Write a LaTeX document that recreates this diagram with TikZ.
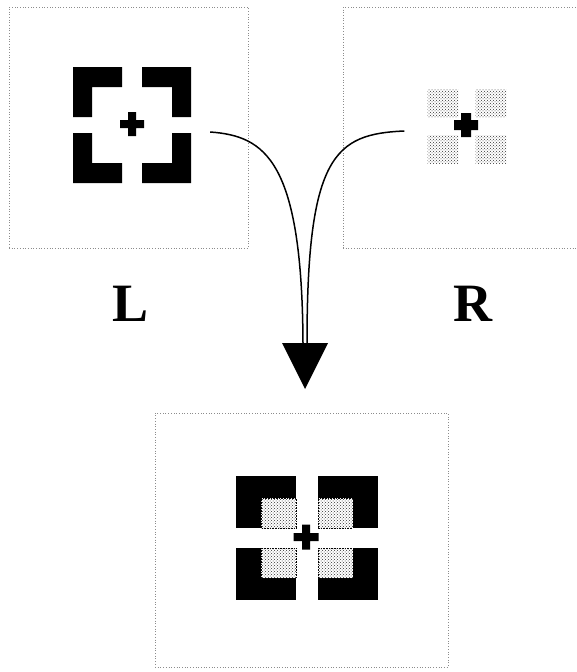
\documentclass[tikz,border=0pt]{standalone}
\usepackage{fontspec}
\setmainfont{Liberation Serif}
\usetikzlibrary{patterns}

\begin{document}
\begin{tikzpicture}[x=1pt, y=-1pt,
        panel/.style={rectangle, draw=black!45, dotted, line width=0.7pt, inner sep=0pt},
        symbox/.style={rectangle, inner sep=0pt},
        stipple/.style={pattern=crosshatch dots, pattern color=black!80},
        link/.style={line width=1.5pt},
        lbl/.style={font=\fontsize{54}{60}\selectfont\bfseries}]

        \clip (0,0) rectangle (577,672);

        \node[panel, minimum width=239pt, minimum height=241pt] (left) at (128.5,127.5) {};
        \node[panel, minimum width=240pt, minimum height=241pt] (right) at (463,127.5) {};
        \node[panel, minimum width=293pt, minimum height=254pt] (merged) at (301.5,540) {};

        \node[symbox, minimum width=118pt, minimum height=116pt] (Lmark) at (132,125) {};
        \node[symbox, minimum width=79pt, minimum height=74pt] (Rmark) at (467,126) {};
        \node[symbox, minimum width=142pt, minimum height=124pt] (Mmark) at (307,538) {};

        % black corner brackets
        \foreach \sx/\sy in {1/1,1/-1,-1/1,-1/-1}
            \fill[shift={(Lmark.center)}, xscale=\sx, yscale=\sy]
                (-59,-58) -- (-10,-58) -- (-10,-38) -- (-40,-38) -- (-40,-8) -- (-59,-8) -- cycle;
        \fill[shift={(132,124)}] (-12,-4) rectangle (12,4) (-4,-12) rectangle (4,12);

        % grey dotted squares
        \foreach \sx/\sy in {1/1,1/-1,-1/1,-1/-1}
            \fill[stipple, shift={(Rmark.center)}, xscale=\sx, yscale=\sy] (8.5,9) rectangle (39.5,37);
        \fill[shift={(466,125)}] (-12,-5) rectangle (12,5) (-5,-12) rectangle (5,12);

        % both overlaid
        \foreach \sx/\sy in {1/1,1/-1,-1/1,-1/-1} {
            \fill[shift={(Mmark.center)}, xscale=\sx, yscale=\sy] (11,10) rectangle (71,62);
            \filldraw[fill=white, draw=black, densely dotted, line width=0.6pt, shift={(Mmark.center)}, xscale=\sx, yscale=\sy] (11,10) rectangle (46,40);
            \fill[stipple, shift={(Mmark.center)}, xscale=\sx, yscale=\sy] (11,10) rectangle (46,40);
        }
        \fill[shift={(306,537)}] (-12.5,-4) rectangle (12.5,4) (-4,-12.5) rectangle (4,12.5);

        \coordinate (tip) at (305,343);
        \draw[link] ([xshift=19pt,yshift=-7pt]Lmark.east) .. controls (265,136) and (302,160) .. ([xshift=-2pt]tip);
        \draw[link] ([xshift=-23pt,yshift=-5pt]Rmark.west) .. controls (335,134) and (307,155) .. ([xshift=2pt]tip);
        \fill (tip) ++(-23,0) -- ++(46,0) -- ++(-23,46) -- cycle;

        \node[lbl] (Llab) at (131,304) {L};
        \node[lbl] (Rlab) at (473,304) {R};
    \end{tikzpicture}
\end{document}
